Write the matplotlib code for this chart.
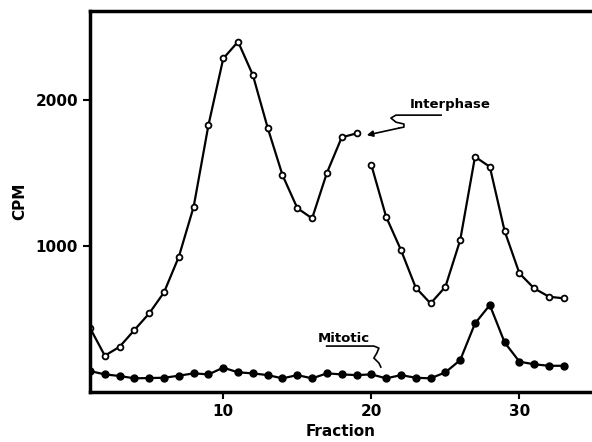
import numpy as np
import matplotlib
matplotlib.use('Agg')
import matplotlib.pyplot as plt

# Fraction numbers and CPM
fraction = np.arange(1, 34)
interphase = [440, 249, 310, 425, 539, 683, 927, 1269, 1829, 2285, 2400, 2171,
              1810, 1486, 1260, 1190, 1502, 1745, 1772, 1555, 1200, 973, 715,
              607, 721, 1041, 1612, 1543, 1103, 813, 710, 653, 642]
mitotic = [144, 121, 110, 94, 96, 98, 112, 128, 121, 167, 135, 128, 116, 94,
           116, 94, 128, 121, 116, 121, 94, 116, 98, 94, 135, 219, 470, 596,
           340, 208, 190, 180, 180]

# label leader squiggles (data coords)
inter_lead_x = [24.71, 21.66, 21.32, 21.66, 22.20, 22.20, 21.86]
inter_lead_y = [1897, 1897, 1877, 1849, 1836, 1815, 1808]
mit_lead_x = [16.98, 20.17, 20.51, 20.37, 20.17, 20.51, 20.64]
mit_lead_y = [315, 315, 301, 267, 233, 199, 171]

plt.rcParams['font.family'] = ['DejaVu Sans']
fig = plt.figure(figsize=(5.92, 4.42), dpi=100)
ax = fig.add_axes([0.152, 0.113, 0.848, 0.862])

lw = 1.6
# interphase line is broken between fractions 19 and 20 (arrow points there)
ax.plot(fraction[:19], interphase[:19], color='black', lw=lw)
ax.plot(fraction[19:], interphase[19:], color='black', lw=lw)
ax.plot(fraction, interphase, ls='none', marker='o', ms=4.2, mfc='white',
        mec='black', mew=1.3)

ax.plot(fraction, mitotic, color='black', lw=lw, marker='o', ms=5,
        mfc='black', mec='black')

# Interphase label
ax.text(25.3, 1925, 'Interphase', ha='center', va='bottom', fontsize=9.5,
        fontweight='bold')
ax.plot(inter_lead_x, inter_lead_y, color='black', lw=1.2)
ax.annotate('', xy=(19.69, 1760), xytext=(inter_lead_x[-1], inter_lead_y[-1]),
            arrowprops=dict(arrowstyle='-|>', color='black', lw=1.2,
                            mutation_scale=9, shrinkA=0, shrinkB=0))

# Mitotic label
ax.text(18.15, 325, 'Mitotic', ha='center', va='bottom', fontsize=9.5,
        fontweight='bold')
ax.plot(mit_lead_x, mit_lead_y, color='black', lw=1.2)

ax.set_xlim(1, 34.9)
ax.set_ylim(0, 2610)
ax.set_xticks([10, 20, 30])
ax.set_yticks([1000, 2000])
ax.tick_params(direction='out', length=5, width=1.5, labelsize=11)
for lab in ax.get_xticklabels() + ax.get_yticklabels():
    lab.set_fontweight('bold')

for side in ['left', 'bottom', 'top']:
    ax.spines[side].set_linewidth(2.5)
ax.spines['right'].set_visible(False)

ax.set_xlabel('Fraction', fontsize=11, fontweight='bold', labelpad=4)
ax.set_ylabel('CPM', fontsize=11, fontweight='bold', labelpad=6)

fig.savefig('out.png', dpi=100)
